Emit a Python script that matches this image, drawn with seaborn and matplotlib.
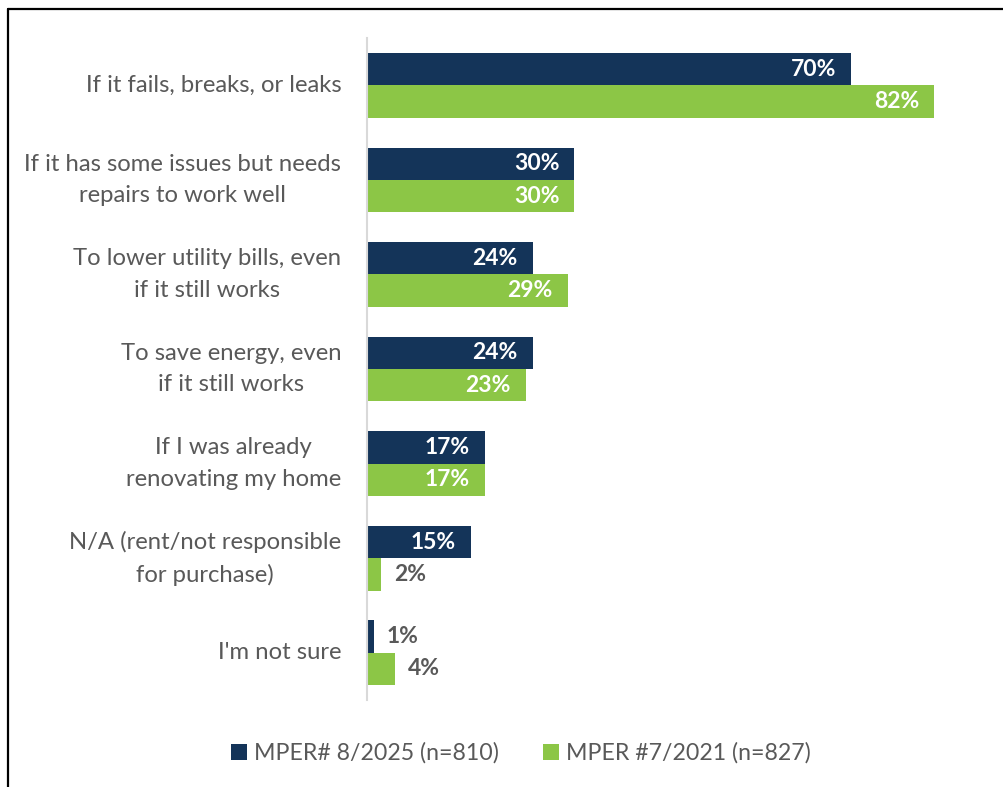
import matplotlib
matplotlib.use("Agg")
import matplotlib.pyplot as plt
from matplotlib.lines import Line2D
from matplotlib.patches import Patch
import seaborn as sns
import pandas as pd

# Survey reasons for replacing equipment, two survey waves
categories = [
    "If it fails, breaks, or leaks",
    "If it has some issues but needs\nrepairs to work well",
    "To lower utility bills, even\nif it still works",
    "To save energy, even\nif it still works",
    "If I was already\nrenovating my home",
    "N/A (rent/not responsible\nfor purchase)",
    "I'm not sure",
]
series_names = ["MPER# 8/2025 (n=810)", "MPER #7/2021 (n=827)"]
values_2025 = [70, 30, 24, 24, 17, 15, 1]
values_2021 = [82, 30, 29, 23, 17, 2, 4]

colors = ["#143459", "#8CC646"]
text_gray = "#595959"

df = pd.DataFrame({
    "reason": categories * 2,
    "wave": [series_names[0]] * len(categories) + [series_names[1]] * len(categories),
    "pct": values_2025 + values_2021,
})

sns.set_theme(style="white")
plt.rcParams["font.family"] = ["Lato", "DejaVu Sans"]

fig = plt.figure(figsize=(10.04, 7.87), dpi=100)
ax = fig.add_axes([0.3655, 0.1105, 0.62, 0.8412])

sns.barplot(data=df, y="reason", x="pct", hue="wave", order=categories,
            hue_order=series_names, palette=colors, width=0.684,
            orient="h", ax=ax, legend=False, saturation=1, linewidth=0)

ax.set_xlim(0, 90)
ax.set_ylim(len(categories) - 0.5, -0.5)
ax.set_xlabel("")
ax.set_ylabel("")
ax.set_xticks([])
for side in ["top", "right", "bottom"]:
    ax.spines[side].set_visible(False)
ax.spines["left"].set_color("#D9D9D9")
ax.spines["left"].set_linewidth(1.5)
ax.tick_params(axis="y", length=0, pad=18.5, labelsize=17.2, labelcolor=text_gray)
for lbl in ax.get_yticklabels():
    lbl.set_multialignment("center")
    lbl.set_linespacing(1.6)
    lbl.set_verticalalignment("center")

# Value labels: white inside long bars, gray beside short ones
for container, vals in zip(ax.containers, [values_2025, values_2021]):
    for bar, v in zip(container, vals):
        y = bar.get_y() + bar.get_height() / 2
        end = bar.get_width()
        if v >= 10:
            ax.text(end - 2.2, y, f"{v}%", ha="right", va="center",
                    color="white", fontsize=16.5, fontweight="bold")
        else:
            ax.text(end + 1.9, y, f"{v}%", ha="left", va="center",
                    color=text_gray, fontsize=16.5, fontweight="bold")

handles = [Patch(facecolor=c, edgecolor="none") for c in colors]
fig.legend(handles, series_names, loc="center", bbox_to_anchor=(0.519, 0.043),
           ncol=2, frameon=False, fontsize=16.7, labelcolor=text_gray,
           handlelength=0.7, handleheight=0.7, handletextpad=0.3,
           columnspacing=1.9)

# Frame line along the left and top edges
fig.add_artist(Line2D([0.008, 0.008], [0.0, 0.989], transform=fig.transFigure,
                      color="black", linewidth=1.6))
fig.add_artist(Line2D([0.008, 1.0], [0.989, 0.989], transform=fig.transFigure,
                      color="black", linewidth=1.6))

fig.savefig("out.png", dpi=100)
